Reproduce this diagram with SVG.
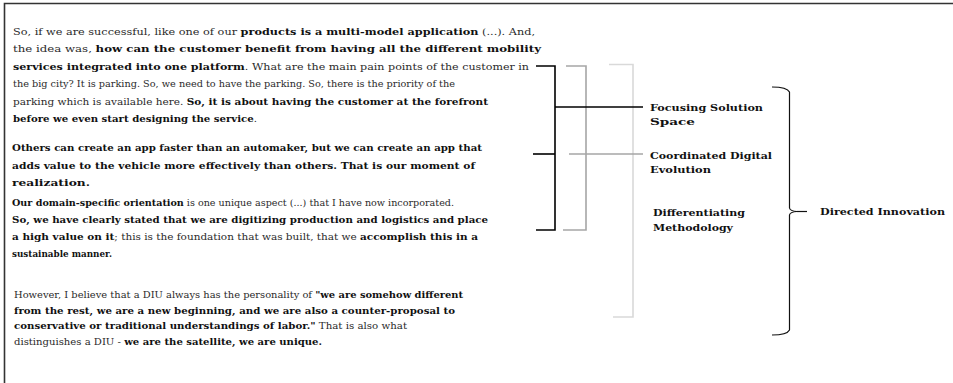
<svg xmlns="http://www.w3.org/2000/svg" width="953" height="383" viewBox="0 0 953 383">
  <style>
    .q { font-family: "DejaVu Serif", "Liberation Serif", serif; font-size: 10px; fill: #2a2a2a; }
    .b { font-weight: bold; fill: #111; }
    .lbl { font-family: "DejaVu Serif", "Liberation Serif", serif; font-size: 10px; font-weight: bold; fill: #111; }
    .k1 { stroke: #000; stroke-width: 1.6; fill: none; }
    .k2 { stroke: #a6a6a6; stroke-width: 1.6; fill: none; }
    .k3 { stroke: #d9d9d9; stroke-width: 1.6; fill: none; }
    .brace { stroke: #111; stroke-width: 1.2; fill: none; }
    .frame { stroke: #333; stroke-width: 1.6; fill: none; }
  </style>

  <rect width="953" height="383" fill="#fff"/>
  <path class="frame" d="M4.5 383 V3.5 H953"/>

  <!-- quotations -->
  <g id="quote-platform">
    <text class="q" x="13" y="34.5" textLength="522" lengthAdjust="spacingAndGlyphs">So, if we are successful, like one of our <tspan class="b">products is a multi-model application</tspan> (...). And,</text>
    <text class="q" x="13" y="52" textLength="528" lengthAdjust="spacingAndGlyphs">the idea was, <tspan class="b">how can the customer benefit from having all the different mobility</tspan></text>
    <text class="q" x="13" y="69.5" textLength="516" lengthAdjust="spacingAndGlyphs"><tspan class="b">services integrated into one platform</tspan>. What are the main pain points of the customer in</text>
    <text class="q" x="13" y="87" textLength="442" lengthAdjust="spacingAndGlyphs">the big city? It is parking. So, we need to have the parking. So, there is the priority of the</text>
    <text class="q" x="13" y="104.5" textLength="475" lengthAdjust="spacingAndGlyphs">parking which is available here. <tspan class="b">So, it is about having the customer at the forefront</tspan></text>
    <text class="q" x="13" y="122" textLength="244" lengthAdjust="spacingAndGlyphs"><tspan class="b">before we even start designing the service</tspan>.</text>
  </g>

  <g id="quote-realization">
    <text class="q b" x="12" y="151" textLength="470" lengthAdjust="spacingAndGlyphs">Others can create an app faster than an automaker, but we can create an app that</text>
    <text class="q b" x="12" y="168.5" textLength="463" lengthAdjust="spacingAndGlyphs">adds value to the vehicle more effectively than others. That is our moment of</text>
    <text class="q b" x="12" y="186" textLength="78" lengthAdjust="spacingAndGlyphs">realization.</text>
  </g>

  <g id="quote-domain">
    <text class="q" x="12" y="206" textLength="442" lengthAdjust="spacingAndGlyphs"><tspan class="b">Our domain-specific orientation</tspan> is one unique aspect (...) that I have now incorporated.</text>
    <text class="q b" x="12" y="223" textLength="476" lengthAdjust="spacingAndGlyphs">So, we have clearly stated that we are digitizing production and logistics and place</text>
    <text class="q" x="12" y="240" textLength="466" lengthAdjust="spacingAndGlyphs"><tspan class="b">a high value on it</tspan>; this is the foundation that was built, that we <tspan class="b">accomplish this in a</tspan></text>
    <text class="q b" x="12" y="257" textLength="100" lengthAdjust="spacingAndGlyphs">sustainable manner.</text>
  </g>

  <g id="quote-diu">
    <text class="q" x="14" y="298" textLength="449" lengthAdjust="spacingAndGlyphs">However, I believe that a DIU always has the personality of <tspan class="b">"we are somehow different</tspan></text>
    <text class="q b" x="14" y="313.5" textLength="441" lengthAdjust="spacingAndGlyphs">from the rest, we are a new beginning, and we are also a counter-proposal to</text>
    <text class="q" x="14" y="329" textLength="393" lengthAdjust="spacingAndGlyphs"><tspan class="b">conservative or traditional understandings of labor."</tspan> That is also what</text>
    <text class="q" x="14" y="344.5" textLength="308" lengthAdjust="spacingAndGlyphs">distinguishes a DIU - <tspan class="b">we are the satellite, we are unique.</tspan></text>
  </g>

  <!-- category labels -->
  <g id="focusing-solution-space">
    <text class="lbl" x="650" y="111" textLength="113" lengthAdjust="spacingAndGlyphs">Focusing Solution</text>
    <text class="lbl" x="650" y="125" textLength="45" lengthAdjust="spacingAndGlyphs">Space</text>
  </g>
  <g id="coordinated-digital-evolution">
    <text class="lbl" x="650" y="159" textLength="122" lengthAdjust="spacingAndGlyphs">Coordinated Digital</text>
    <text class="lbl" x="650" y="173" textLength="61" lengthAdjust="spacingAndGlyphs">Evolution</text>
  </g>
  <g id="differentiating-methodology">
    <text class="lbl" x="653" y="216" textLength="92" lengthAdjust="spacingAndGlyphs">Differentiating</text>
    <text class="lbl" x="653" y="231" textLength="80" lengthAdjust="spacingAndGlyphs">Methodology</text>
  </g>
  <g id="directed-innovation">
    <text class="lbl" x="820" y="215" textLength="125" lengthAdjust="spacingAndGlyphs">Directed Innovation</text>
  </g>

  <!-- brackets and brace -->
  <g id="connectors">
    <path class="k3" d="M609 64.5 H633 V317 H613"/>
    <path class="k2" d="M566 66 H586 V230 H563"/>
    <path class="k2" d="M569 154 H643"/>
    <path class="k1" d="M536 66 H555 V230 H536"/>
    <path class="k1" d="M533 154 H555"/>
    <path class="k1" d="M555 107 H643"/>
    <path class="brace" d="M772 87 Q787 87 789.5 92 V208 Q790 211 797 211.5 Q790 212 789.5 215 V330 Q787 335 772 335"/>
    <path class="brace" d="M797 211.5 H807"/>
  </g>
</svg>
